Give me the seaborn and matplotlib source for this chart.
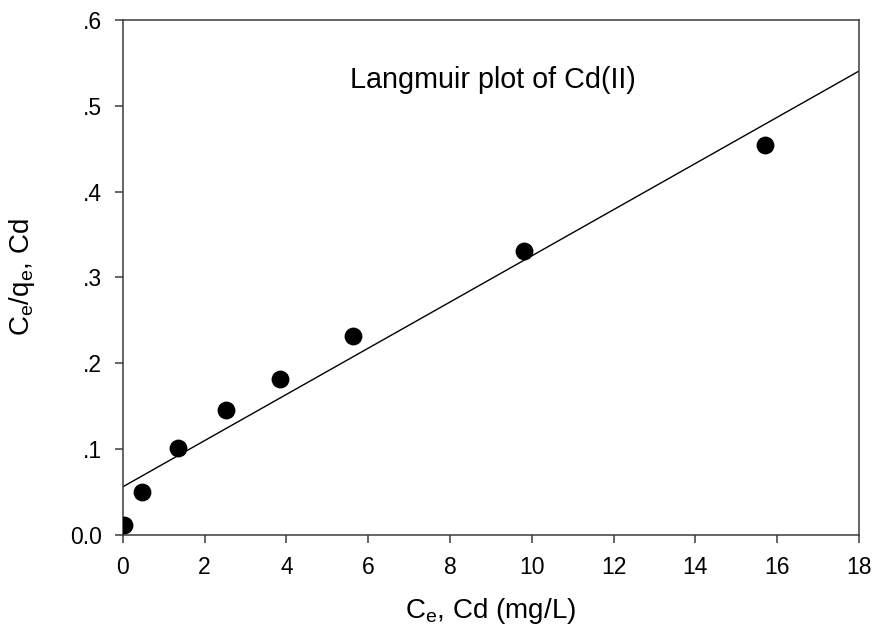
import numpy as np
import pandas as pd
import matplotlib
matplotlib.use("Agg")
import matplotlib.pyplot as plt
import seaborn as sns

# Equilibrium data for Cd(II) adsorption
ce_values = [0.02, 0.46, 1.36, 2.53, 3.85, 5.62, 9.81, 15.71]
ce_over_qe = [0.012, 0.050, 0.101, 0.146, 0.182, 0.232, 0.331, 0.454]
x_ticks = [0, 2, 4, 6, 8, 10, 12, 14, 16, 18]
y_ticks = [0.0, 0.1, 0.2, 0.3, 0.4, 0.5, 0.6]
y_tick_labels = ["0.0", ".1", ".2", ".3", ".4", ".5", ".6"]

df = pd.DataFrame({"Ce": ce_values, "Ce_qe": ce_over_qe})

# Linear Langmuir fit across the full x range
slope, intercept = np.polyfit(df["Ce"], df["Ce_qe"], 1)
fit_x = np.array([x_ticks[0], x_ticks[-1]], dtype=float)
fit_df = pd.DataFrame({"Ce": fit_x, "fit": intercept + slope * fit_x})

sns.set_theme(style="ticks")
plt.rcParams["font.family"] = ["Liberation Sans", "DejaVu Sans"]
plt.rcParams["mathtext.fontset"] = "custom"
plt.rcParams["mathtext.rm"] = "Liberation Sans"
plt.rcParams["text.color"] = "black"
plt.rcParams["axes.labelcolor"] = "black"

fig = plt.figure(figsize=(8.77, 6.40), dpi=100)
ax = fig.add_axes([0.140, 0.164, 0.8395, 0.805])

sns.lineplot(data=fit_df, x="Ce", y="fit", ax=ax, color="black", linewidth=1.0)
sns.scatterplot(data=df, x="Ce", y="Ce_qe", ax=ax, color="black", s=165,
                edgecolor="black", linewidth=0, zorder=3)

ax.set_xlim(0, 18)
ax.set_ylim(0, 0.6)
ax.set_xticks(x_ticks)
ax.set_xticklabels([str(t) for t in x_ticks])
ax.set_yticks(y_ticks)
ax.set_yticklabels(y_tick_labels)

spine_color = "#3c3c3c"
for side in ["left", "right", "top", "bottom"]:
    ax.spines[side].set_visible(True)
    ax.spines[side].set_color(spine_color)
    ax.spines[side].set_linewidth(1.1)
ax.tick_params(axis="both", direction="out", length=6, width=1.1,
               color=spine_color, labelsize=16.5, labelcolor="black", pad=9)

ax.set_xlabel(r"C$_{\mathregular{e}}$, Cd (mg/L)", fontsize=20,
              labelpad=12, color="black")
ax.set_ylabel(r"C$_{\mathregular{e}}$/q$_{\mathregular{e}}$, Cd", fontsize=20,
              labelpad=24, color="black")

ax.text(9.06, 0.530, "Langmuir plot of Cd(II)", fontsize=20.7,
        ha="center", va="center", color="black")

fig.savefig("out.png", dpi=100, facecolor="white")
